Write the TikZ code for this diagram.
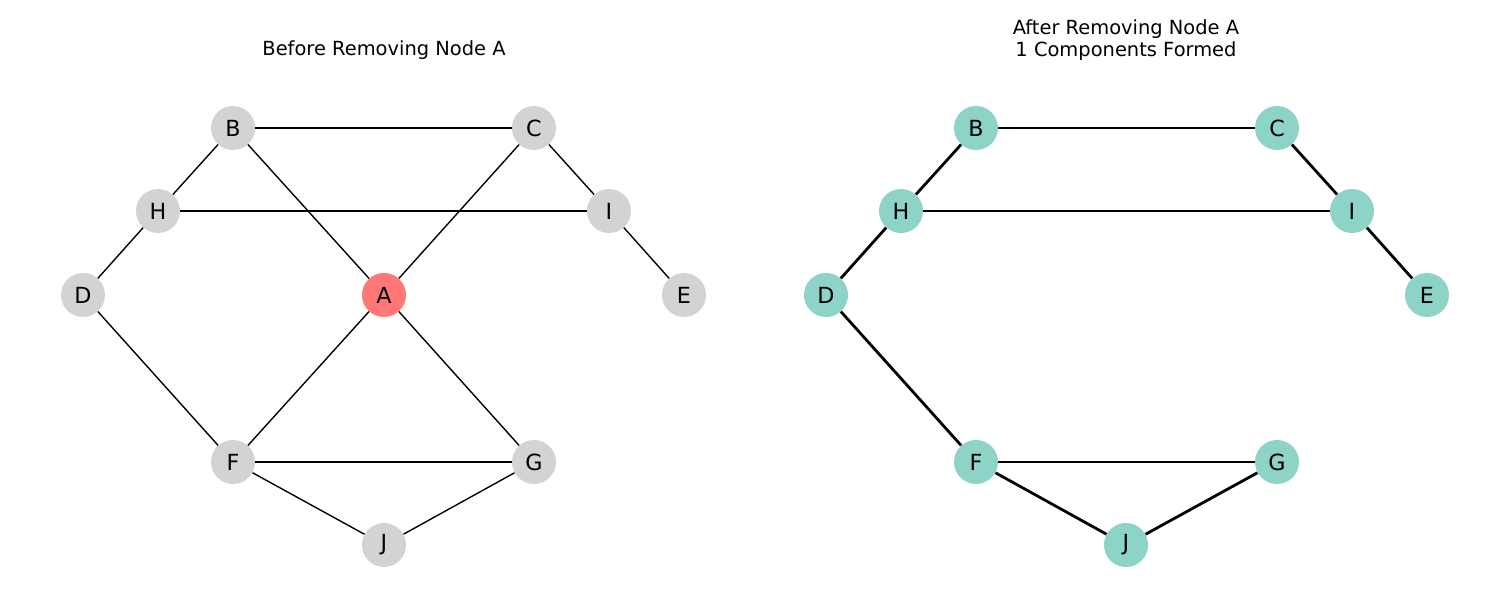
\documentclass[tikz,border=0pt]{standalone}
\usepackage{fontspec}
\setmainfont{DejaVu Sans}
\definecolor{nodegray}{HTML}{D3D3D3}
\definecolor{cutred}{HTML}{FF7777}
\definecolor{teal}{HTML}{8DD3C7}
\begin{document}
\begin{tikzpicture}[x=0.72pt,y=-0.72pt,
  vertex/.style={circle,minimum size=31.7pt,inner sep=0pt,font=\fontsize{16}{18}\selectfont},
  before/.style={vertex,fill=nodegray},
  cut/.style={vertex,fill=cutred},
  after/.style={vertex,fill=teal},
  thinedge/.style={black,line width=1pt},
  thickedge/.style={black,line width=2pt},
  title/.style={font=\fontsize{14}{16.2}\selectfont,align=center}]
\useasboundingbox (0,0) rectangle (1510,609);

% Left graph: before removing A
\node[title] (t1) at (384,50) {Before Removing Node A};
\node[before] (B1) at (233,128) {B};
\node[before] (C1) at (534,128) {C};
\node[before] (H1) at (158,211) {H};
\node[before] (I1) at (609,211) {I};
\node[before] (D1) at (83,295) {D};
\node[cut]    (A1) at (384,295) {A};
\node[before] (E1) at (684,295) {E};
\node[before] (F1) at (233,462) {F};
\node[before] (G1) at (534,462) {G};
\node[before] (J1) at (384,545) {J};
\draw[thinedge] (B1) -- (C1);
\draw[thinedge] (B1) -- (H1);
\draw[thinedge] (B1) -- (A1);
\draw[thinedge] (C1) -- (A1);
\draw[thinedge] (C1) -- (I1);
\draw[thinedge] (H1) -- (I1);
\draw[thinedge] (H1) -- (D1);
\draw[thinedge] (I1) -- (E1);
\draw[thinedge] (D1) -- (F1);
\draw[thinedge] (A1) -- (F1);
\draw[thinedge] (A1) -- (G1);
\draw[thinedge] (F1) -- (G1);
\draw[thinedge] (F1) -- (J1);
\draw[thinedge] (J1) -- (G1);

% Right graph: after removing A
\node[title] (t2) at (1126,40) {After Removing Node A\\1 Components Formed};
\node[after] (B2) at (976,128) {B};
\node[after] (C2) at (1277,128) {C};
\node[after] (H2) at (901,211) {H};
\node[after] (I2) at (1352,211) {I};
\node[after] (D2) at (826,295) {D};
\node[after] (E2) at (1427,295) {E};
\node[after] (F2) at (976,462) {F};
\node[after] (G2) at (1277,462) {G};
\node[after] (J2) at (1126,545) {J};
\draw[thickedge] (B2) -- (C2);
\draw[thickedge] (B2) -- (H2);
\draw[thickedge] (C2) -- (I2);
\draw[thickedge] (H2) -- (I2);
\draw[thickedge] (H2) -- (D2);
\draw[thickedge] (I2) -- (E2);
\draw[thickedge] (D2) -- (F2);
\draw[thickedge] (F2) -- (G2);
\draw[thickedge] (F2) -- (J2);
\draw[thickedge] (J2) -- (G2);
\end{tikzpicture}
\end{document}
